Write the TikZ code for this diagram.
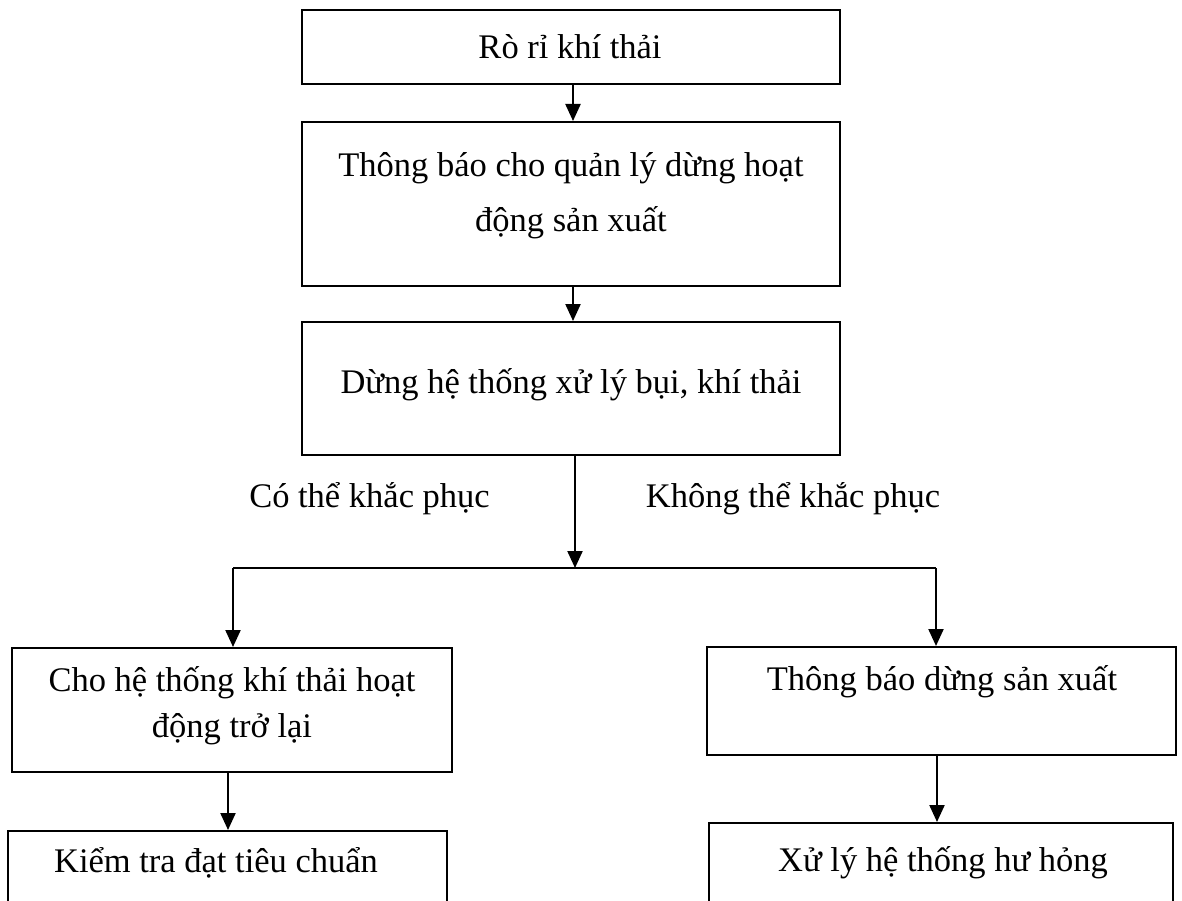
\documentclass[tikz,border=0pt]{standalone}
\usepackage{fontspec}
\setmainfont{Liberation Serif}
\usetikzlibrary{arrows.meta}
\begin{document}
\begin{tikzpicture}[x=1pt,y=-1pt,
  box/.style={draw, line width=2pt, inner sep=0pt},
  txt/.style={anchor=base, inner sep=0pt, font=\fontsize{34.5}{46}\selectfont},
  arr/.style={line width=2.2pt, -{Triangle[length=17pt,width=15pt]}},
  ln/.style={line width=2.2pt}]
\useasboundingbox (0,0) rectangle (1182,901);
\clip (0,0) rectangle (1182,901);

% boxes
\node[box, minimum width=538pt, minimum height=74pt]  (b1)  at (571,47)    {};
\node[box, minimum width=538pt, minimum height=164pt] (b2)  at (571,204)   {};
\node[box, minimum width=538pt, minimum height=133pt] (b3)  at (571,388.5) {};
\node[box, minimum width=440pt, minimum height=124pt] (b4l) at (232,710)   {};
\node[box, minimum width=469pt, minimum height=108pt] (b4r) at (941.5,701) {};
\node[box, minimum width=439pt, minimum height=129pt] (b5l) at (227.5,895.5) {};
\node[box, minimum width=464pt, minimum height=137pt] (b5r) at (941,891.5) {};

% box texts
\node[txt] (t1)  at (570,59)  {Rò rỉ khí thải};
\node[txt] (t2a) at (571,177) {Thông báo cho quản lý dừng hoạt};
\node[txt] (t2b) at (571,232) {động sản xuất};
\node[txt] (t3)  at (571,393) {Dừng hệ thống xử lý bụi, khí thải};
\node[txt] (t4a) at (232,691) {Cho hệ thống khí thải hoạt};
\node[txt] (t4b) at (232,737) {động trở lại};
\node[txt] (t4r) at (942,690) {Thông báo dừng sản xuất};
\node[txt] (t5l) at (216,872) {Kiểm tra đạt tiêu chuẩn};
\node[txt] (t5r) at (943,871) {Xử lý hệ thống hư hỏng};

% branch labels
\node[txt] (lyes) at (369.5,507) {Có thể khắc phục};
\node[txt] (lno)  at (793,507)   {Không thể khắc phục};

% connectors
\coordinate (cm) at (573,0);
\coordinate (fork) at (575,568);
\coordinate (forkl) at (233,568);
\coordinate (forkr) at (936,568);
\coordinate (cl) at (228,0);
\coordinate (cr) at (937,0);

\draw[arr] (b1.south -| cm) -- (b2.north -| cm);
\draw[arr] (b2.south -| cm) -- (b3.north -| cm);
\draw[arr] (b3.south -| fork) -- (fork);
\draw[ln] (forkl) -- (forkr);
\draw[arr] (forkl) -- (forkl |- b4l.north);
\draw[arr] (forkr) -- (forkr |- b4r.north);
\draw[arr] (b4l.south -| cl) -- (b5l.north -| cl);
\draw[arr] (b4r.south -| cr) -- (b5r.north -| cr);
\end{tikzpicture}
\end{document}
